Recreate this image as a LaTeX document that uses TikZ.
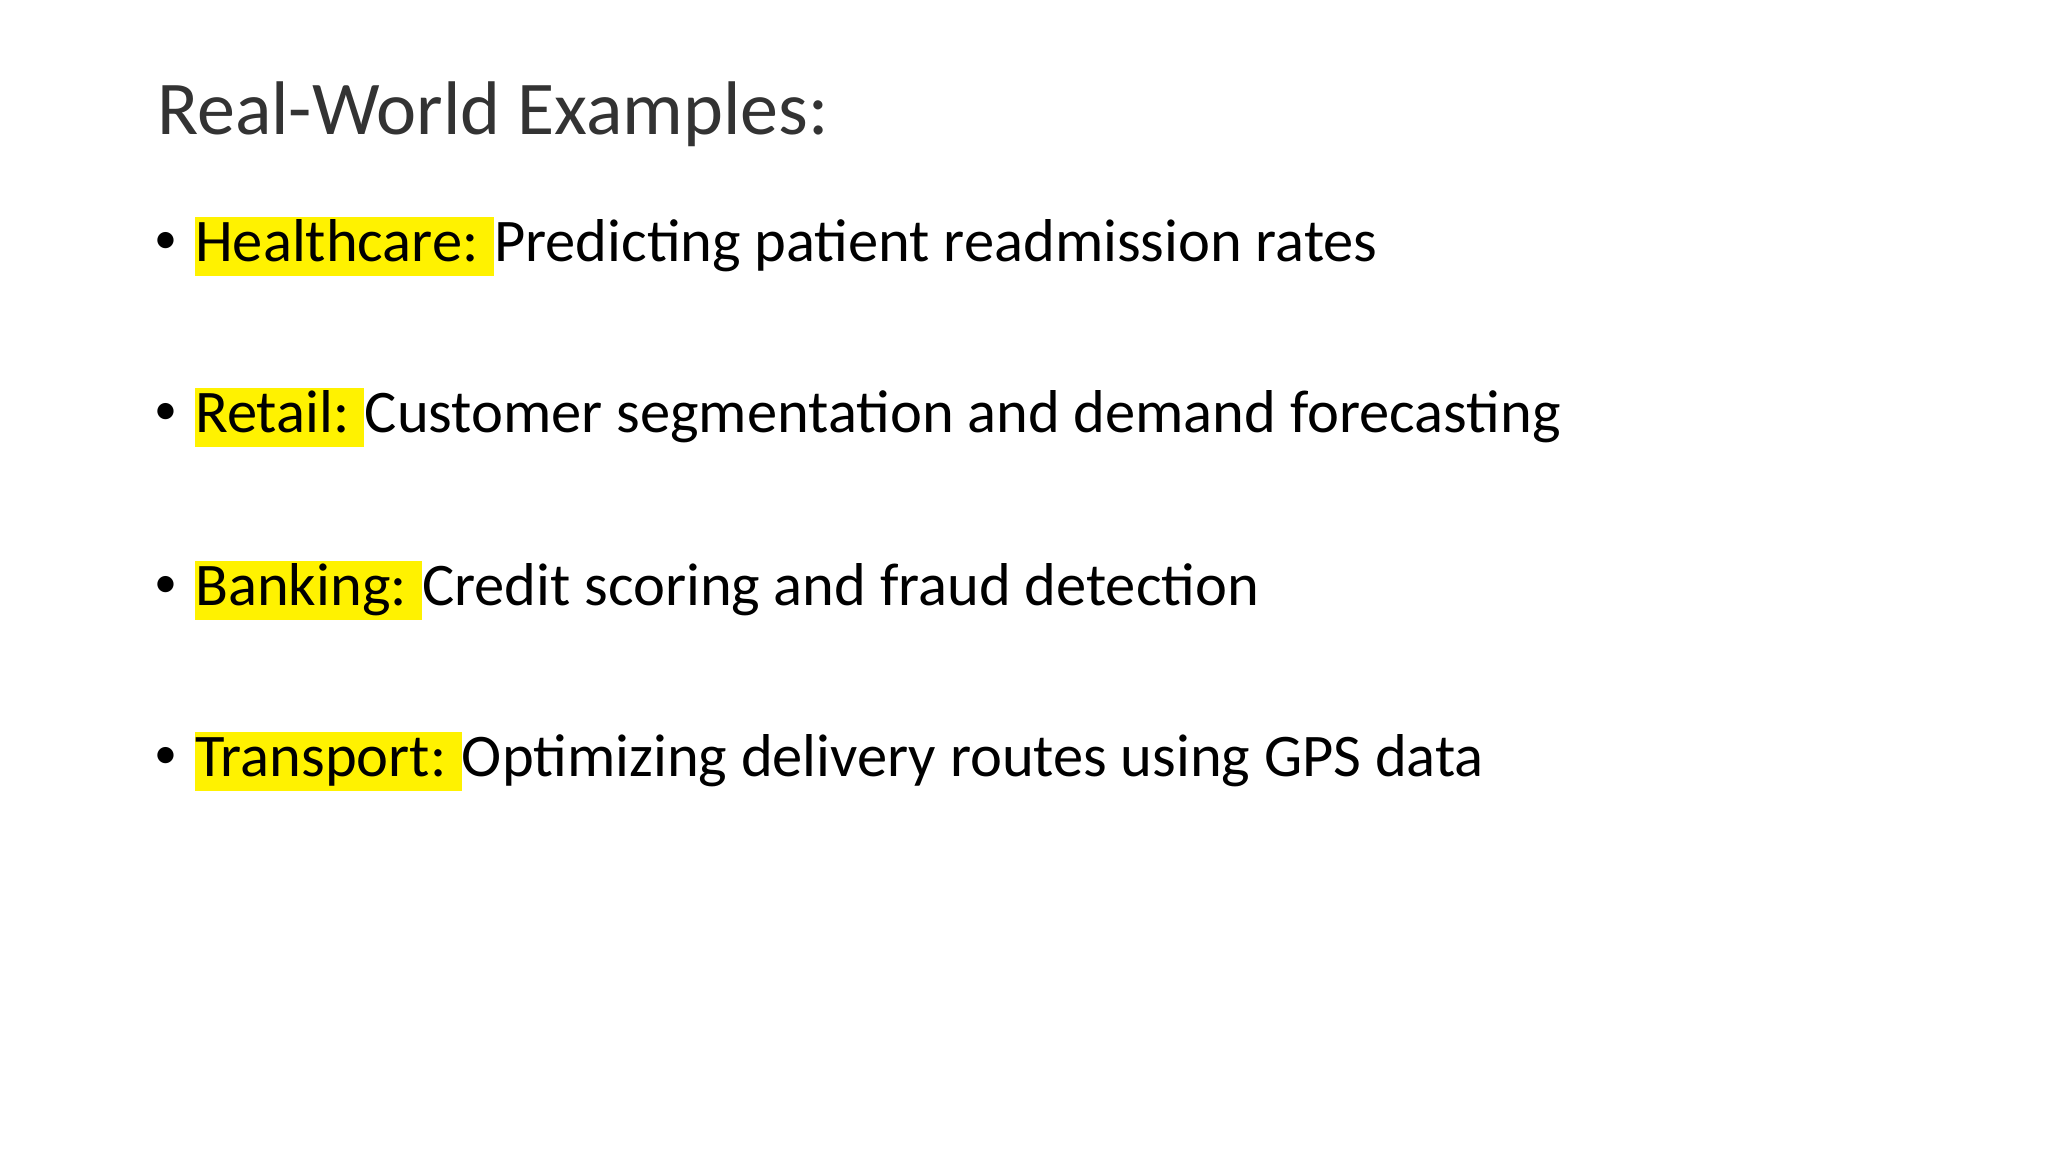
\documentclass[tikz,border=0pt]{standalone}
\usepackage{fontspec}
\setmainfont{Carlito}
\begin{document}
\begin{tikzpicture}[x=1pt,y=-1pt,
  title/.style={anchor=base west,inner sep=0,font=\fontsize{76}{90}\selectfont,text=black!80},
  hl/.style={anchor=base west,inner sep=0,fill=yellow,text height=44pt,text depth=15pt,font=\fontsize{60.5}{72}\selectfont},
  desc/.style={anchor=base west,inner sep=0,font=\fontsize{60.5}{72}\selectfont},
  bul/.style={anchor=base,inner sep=0,font=\fontsize{46}{56}\selectfont}]
\useasboundingbox (0,0) rectangle (2048,1152);
\fill[white] (0,0) rectangle (2048,1152);
\node[title] (t) at (157,134) {Real-World Examples:};
\foreach \n/\y/\k/\d in {a/261/Healthcare:/Predicting patient readmission rates,
  b/432/Retail:/Customer segmentation and demand forecasting,
  c/605/Banking:/Credit scoring and fraud detection,
  d/776/Transport:/Optimizing delivery routes using GPS data}{
  \node[bul] (b\n) at (166,\y-8) {\textbullet};
  \node[hl] (k\n) at (195,\y) {\k\hspace*{0.25em}};
  \node[desc] (d\n) at (k\n.base east) {\d};
}
\end{tikzpicture}
\end{document}
